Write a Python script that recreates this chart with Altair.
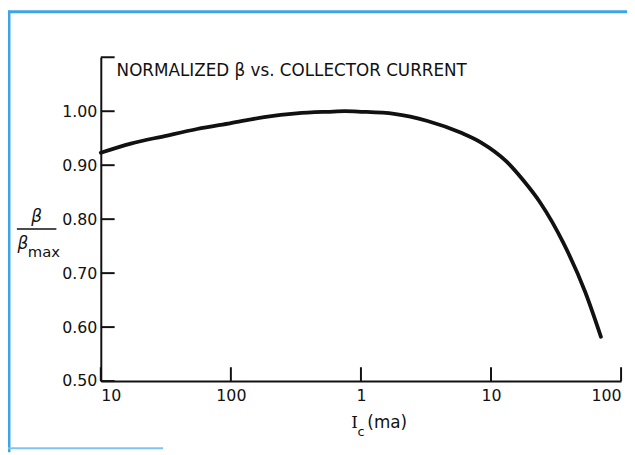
import altair as alt
import pandas as pd

# ---- data ----
current_ma = [0.01, 0.017, 0.031, 0.055, 0.1, 0.18, 0.32, 0.57, 0.75, 1.0, 1.8, 3.25,
              5.9, 8.4, 13, 17.7, 24, 36, 53, 70]
beta_norm = [0.923, 0.940, 0.954, 0.967, 0.978, 0.989, 0.996, 0.999, 1.000, 0.999, 0.995, 0.982,
             0.960, 0.942, 0.908, 0.872, 0.830, 0.756, 0.665, 0.582]

x_ticks = [0.01, 0.1, 1, 10, 100]
y_ticks = [0.50, 0.60, 0.70, 0.80, 0.90, 1.00, 1.10]
y_labels = [0.50, 0.60, 0.70, 0.80, 0.90, 1.00]

title_text = ["NORMALIZED β vs. COLLECTOR CURRENT"]

W, H = 527, 328
FONT = "DejaVu Sans"

xscale = alt.Scale(type="log", domain=[0.01, 100], nice=False)
yscale = alt.Scale(domain=[0.5, 1.1], nice=False, zero=False)

curve = pd.DataFrame({"I": current_ma, "b": beta_norm})

xaxis = alt.Axis(
    values=x_ticks,
    labelExpr="datum.value < 1 ? format(datum.value * 1000, 'd') : format(datum.value, 'd')",
    ticks=False, grid=False, title=None,
    labelFont=FONT, labelFontSize=16, labelColor="#111", labelPadding=7,
    labelFlush=True, domainColor="#111", domainWidth=2,
)
yaxis = alt.Axis(
    values=y_labels, format=".2f",
    ticks=False, grid=False, title=None,
    labelFont=FONT, labelFontSize=16, labelColor="#111", labelPadding=4,
    domainColor="#111", domainWidth=2,
)

line = alt.Chart(curve).mark_line(
    color="#111", strokeWidth=3.8, interpolate="monotone", strokeCap="round"
).encode(
    x=alt.X("I:Q", scale=xscale, axis=xaxis),
    y=alt.Y("b:Q", scale=yscale, axis=yaxis),
)

ytick = alt.Chart(pd.DataFrame({"v": y_ticks})).mark_rule(color="#111", strokeWidth=2).encode(
    y=alt.Y("v:Q", scale=yscale, axis=yaxis),
    x=alt.value(0), x2=alt.value(14),
)
xtick = alt.Chart(pd.DataFrame({"v": x_ticks})).mark_rule(color="#111", strokeWidth=2).encode(
    x=alt.X("v:Q", scale=xscale, axis=xaxis),
    y=alt.value(H), y2=alt.value(H - 14),
)

one = pd.DataFrame({"t": title_text})

title = alt.Chart(one).mark_text(
    align="left", baseline="middle", font=FONT, fontSize=17, color="#111"
).encode(text="t:N", x=alt.value(16), y=alt.value(13.5))

def label(txt, x, y, size=16, style="normal", align="center", font=FONT):
    return alt.Chart(pd.DataFrame({"t": [txt]})).mark_text(
        align=align, baseline="middle", font=font, fontSize=size,
        fontStyle=style, color="#111"
    ).encode(text="t:N", x=alt.value(x), y=alt.value(y))

beta_top = label("β", -65, 162, size=17, style="italic")
frac = alt.Chart(one).mark_rule(color="#111", strokeWidth=1.6).encode(
    x=alt.value(-85), x2=alt.value(-45), y=alt.value(174)
)
beta_bot = label("β", -79, 189, size=17, style="italic")
beta_max = label("max", -74, 197, size=15, align="left")

i_lbl = label("I", 257, 371, size=17, font="DejaVu Serif")
c_lbl = label("c", 260, 380, size=13, align="left")
ma_lbl = label("(ma)", 270, 371, size=17, align="left")

blue = "#3da4e6"
frame_top = alt.Chart(one).mark_rule(color=blue, strokeWidth=3).encode(
    x=alt.value(-94), x2=alt.value(533), y=alt.value(-46)
)
frame_left = alt.Chart(one).mark_rule(color=blue, strokeWidth=3).encode(
    x=alt.value(-93), y=alt.value(-47), y2=alt.value(400)
)
frame_bot = alt.Chart(one).mark_rule(color="#7cc4f0", strokeWidth=2).encode(
    x=alt.value(-94), x2=alt.value(63), y=alt.value(396)
)

chart = alt.layer(
    frame_top, frame_left, frame_bot,
    line, ytick, xtick, title,
    beta_top, frac, beta_bot, beta_max,
    i_lbl, c_lbl, ma_lbl,
).properties(
    width=W, height=H,
    autosize=alt.AutoSizeParams(type="none"),
    padding={"left": 94, "top": 47, "right": 6, "bottom": 72},
    background="white",
).configure_view(strokeWidth=0)

chart.save("out.html", embed_options={"renderer": "svg", "actions": False})
